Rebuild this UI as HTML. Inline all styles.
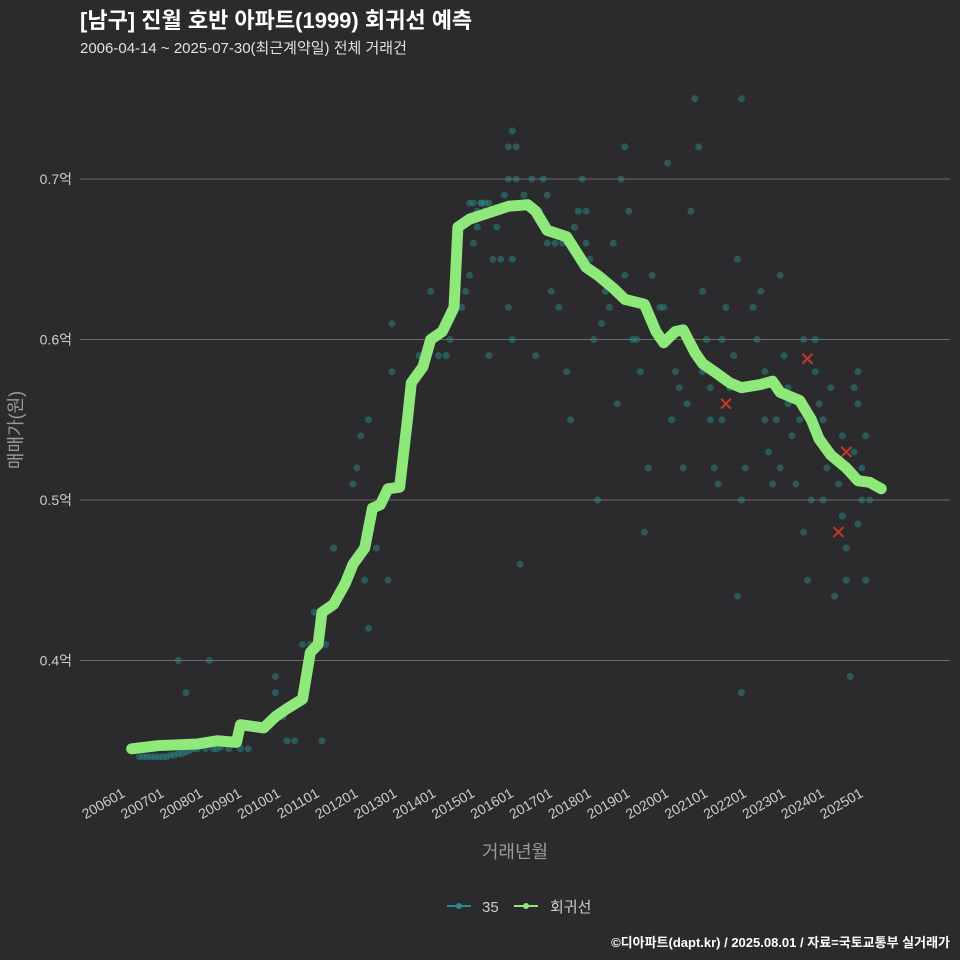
<!DOCTYPE html>
<html><head><meta charset="utf-8"><style>
html,body{margin:0;padding:0;background:#2b2b2d;overflow:hidden;width:960px;height:960px;}
svg{display:block;}
svg text{font-family:"Liberation Sans","Noto Sans CJK KR",sans-serif;}
</style></head><body>
<svg width="960" height="960" viewBox="0 0 960 960" xmlns="http://www.w3.org/2000/svg">
<rect width="960" height="960" fill="#2b2b2d"/>
<text x="80" y="28" font-size="22" font-weight="bold" fill="#ffffff">[남구] 진월 호반 아파트(1999) 회귀선 예측</text>
<text x="80" y="53" font-size="15" fill="#e0e0e0">2006-04-14 ~ 2025-07-30(최근계약일) 전체 거래건</text>
<g id="grid"></g>
<g id="scatter"></g>
<g id="line"></g>
<g id="xaxis"></g>
<text x="515" y="858" font-size="18" fill="#999" text-anchor="middle">거래년월</text>
<text transform="translate(22,430) rotate(-90)" font-size="18" fill="#999" text-anchor="middle">매매가(원)</text>
<g>
<g>
<line x1="447" y1="906" x2="471" y2="906" stroke="#2a8a8a" stroke-width="2"/><circle cx="459" cy="906" r="3" fill="#2a8a8a"/>
<text x="482" y="912" font-size="15" fill="#ccc">35</text></g>
<g>
<line x1="514" y1="906" x2="538" y2="906" stroke="#8ee87a" stroke-width="2"/><circle cx="526" cy="906" r="3" fill="#8ee87a"/>
<text x="550" y="912" font-size="15" fill="#ccc">회귀선</text></g>
</g>
<text x="950" y="947" font-size="13" font-weight="bold" fill="#fff" text-anchor="end">©디아파트(dapt.kr) / 2025.08.01 / 자료=국토교통부 실거래가</text>
</svg>
<script>
const yTicks=[0.4,0.5,0.6,0.7];
const xTickYears=[2006,2007,2008,2009,2010,2011,2012,2013,2014,2015,2016,2017,2018,2019,2020,2021,2022,2023,2024,2025];
const lineX=[2006.3,2007.0,2008.0,2008.5,2009.0,2009.1,2009.7,2010.0,2010.3,2010.7,2010.9,2011.1,2011.2,2011.5,2011.8,2012.0,2012.3,2012.5,2012.7,2012.9,2013.2,2013.4,2013.5,2013.8,2014.0,2014.3,2014.5,2014.6,2014.7,2015.0,2015.5,2016.0,2016.5,2016.7,2017.0,2017.5,2018.0,2018.3,2018.7,2019.0,2019.5,2019.8,2020.0,2020.3,2020.5,2020.8,2021.0,2021.3,2021.7,2022.0,2022.5,2022.8,2023.0,2023.5,2023.8,2024.0,2024.3,2024.7,2025.0,2025.3,2025.6];
const lineY=[0.345,0.347,0.348,0.350,0.349,0.360,0.358,0.365,0.370,0.376,0.405,0.41,0.43,0.435,0.448,0.46,0.47,0.495,0.497,0.507,0.508,0.55,0.573,0.583,0.60,0.605,0.615,0.62,0.67,0.675,0.679,0.683,0.684,0.68,0.668,0.664,0.645,0.64,0.632,0.625,0.622,0.605,0.598,0.605,0.606,0.592,0.585,0.58,0.573,0.57,0.572,0.574,0.567,0.562,0.55,0.538,0.528,0.52,0.512,0.511,0.507];
const ptX=[
2006.5,2006.6,2006.7,2006.8,2006.9,2007.0,2007.1,2007.2,2007.3,2007.4,2007.5,2007.6,2007.7,2007.8,2007.9,2008.0,2008.2,2008.4,2008.5,2008.6,2008.8,2009.1,2009.3,
2007.5,2007.7,2008.3,2009.8,2010.0,2010.0,2010.2,2010.3,2010.5,2010.7,2010.9,2011.0,2011.0,2011.2,2011.3,2011.5,2011.8,
2012.0,2012.1,2012.2,2012.3,2012.4,2012.4,2012.6,2012.9,2013.0,2013.0,2013.4,2013.7,2014.0,2014.2,2014.4,2014.5,2014.8,2014.9,
2015.0,2015.0,2015.1,2015.1,2015.2,2015.2,2015.3,2015.3,2015.4,2015.4,2015.5,2015.5,2015.6,2015.6,2015.7,2015.8,2015.9,2016.0,2016.0,2016.0,2016.1,2016.1,2016.1,2016.2,2016.2,2016.3,2016.4,2016.6,2016.7,2016.8,2016.9,
2017.0,2017.0,2017.1,2017.2,2017.3,2017.4,2017.5,2017.6,2017.7,2017.8,2017.9,2018.0,2018.0,2018.1,2018.2,2018.3,2018.4,2018.5,2018.6,2018.7,2018.8,2018.9,2019.0,2019.0,2019.1,2019.2,2019.3,2019.4,2019.5,2019.6,2019.7,2019.9,
2020.0,2020.1,2020.2,2020.3,2020.4,2020.5,2020.6,2020.6,2020.7,2020.8,2020.9,2021.0,2021.0,2021.1,2021.2,2021.2,2021.3,2021.4,2021.5,2021.5,2021.6,2021.7,2021.8,2021.9,2021.9,
2022.0,2022.0,2022.0,2022.1,2022.2,2022.3,2022.4,2022.5,2022.6,2022.6,2022.7,2022.8,2022.9,2023.0,2023.0,2023.1,2023.2,2023.2,2023.3,2023.4,2023.5,2023.6,2023.6,2023.7,2023.8,2023.9,2023.9,
2024.0,2024.1,2024.1,2024.2,2024.3,2024.4,2024.5,2024.6,2024.6,2024.7,2024.7,2024.8,2024.9,2024.9,2025.0,2025.0,2025.0,2025.1,2025.1,2025.2,2025.2,2025.3];
const ptY=[
0.34,0.34,0.34,0.34,0.34,0.34,0.34,0.34,0.341,0.341,0.342,0.342,0.343,0.344,0.345,0.345,0.345,0.345,0.345,0.346,0.345,0.345,0.345,
0.40,0.38,0.40,0.36,0.39,0.38,0.365,0.35,0.35,0.41,0.41,0.41,0.43,0.35,0.41,0.47,0.45,
0.51,0.52,0.54,0.45,0.42,0.55,0.47,0.45,0.58,0.61,0.55,0.59,0.63,0.59,0.59,0.60,0.62,0.63,
0.64,0.685,0.66,0.685,0.67,0.68,0.685,0.685,0.68,0.685,0.59,0.685,0.65,0.68,0.67,0.65,0.69,0.72,0.70,0.62,0.73,0.60,0.65,0.70,0.72,0.46,0.69,0.70,0.59,0.68,0.70,
0.69,0.66,0.63,0.66,0.62,0.66,0.58,0.55,0.67,0.68,0.70,0.68,0.66,0.65,0.60,0.50,0.61,0.63,0.62,0.66,0.56,0.70,0.72,0.64,0.68,0.60,0.60,0.58,0.48,0.52,0.64,0.62,
0.62,0.71,0.55,0.58,0.57,0.52,0.56,0.60,0.68,0.75,0.72,0.63,0.58,0.60,0.55,0.57,0.52,0.51,0.60,0.55,0.62,0.57,0.59,0.65,0.44,
0.75,0.50,0.38,0.52,0.57,0.62,0.60,0.63,0.55,0.58,0.53,0.51,0.55,0.64,0.52,0.59,0.56,0.57,0.54,0.51,0.55,0.60,0.48,0.45,0.50,0.58,0.60,
0.56,0.55,0.50,0.52,0.57,0.44,0.51,0.49,0.54,0.47,0.45,0.39,0.57,0.53,0.58,0.56,0.485,0.52,0.50,0.54,0.45,0.50];
const redX=[2021.6,2023.7,2024.5,2024.7];
const redY=[0.56,0.588,0.48,0.53];
const NS='http://www.w3.org/2000/svg';
function xs(t){return 120+(t-2006)*38.84;}
function ys(v){return 179+(0.7-v)*1605;}
function mk(tag,attrs,parent){const e=document.createElementNS(NS,tag);for(const k in attrs)e.setAttribute(k,attrs[k]);parent.appendChild(e);return e;}
const grid=document.getElementById('grid');
yTicks.forEach(v=>{
  const l=mk('line',{x1:80,x2:950,y1:ys(v),y2:ys(v),stroke:'#6a6a6a','stroke-width':1},grid);
  
  
  const t=mk('text',{x:72,y:ys(v)+5,'font-size':14,fill:'#ccc','text-anchor':'end'},grid);
  t.textContent=v.toFixed(1)+'억';
  
  
});
const xa=document.getElementById('xaxis');
xTickYears.forEach(y=>{
  const x=xs(y);
  const t=mk('text',{transform:`translate(${x+6},${796}) rotate(-30)`,'font-size':14,fill:'#ccc','text-anchor':'end'},xa);
  t.textContent=y+'01';
  
  
});
const sc=document.getElementById('scatter');
const n=Math.min(ptX.length,ptY.length);
for(let i=0;i<n;i++){
  const c=mk('circle',{cx:xs(ptX[i]),cy:ys(ptY[i]),r:3.5,fill:'#2a8a8a','fill-opacity':0.5},sc);
  
  
}
redX.forEach((t,i)=>{
  const x=xs(t),y=ys(redY[i]);
  const g=mk('g',{stroke:'#c0392b','stroke-width':2},sc);
  mk('line',{x1:x-5,y1:y-5,x2:x+5,y2:y+5},g);mk('line',{x1:x-5,y1:y+5,x2:x+5,y2:y-5},g);
  
  
});
const ln=document.getElementById('line');
const p=mk('polyline',{points:lineX.map((t,i)=>xs(t)+','+ys(lineY[i])).join(' '),fill:'none',stroke:'#8ee87a','stroke-width':11,'stroke-linejoin':'round','stroke-linecap':'round'},ln);


</script>
</body></html>
